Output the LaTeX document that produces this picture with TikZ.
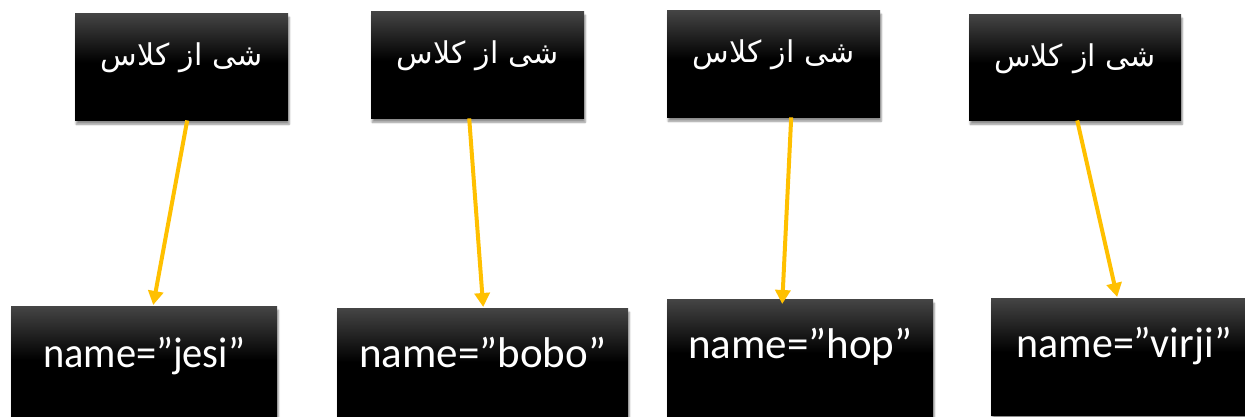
\documentclass[tikz,border=0pt]{standalone}
\usepackage{fontspec}
\setmainfont{Carlito}
\newfontfamily\arabicfont[Script=Arabic]{DejaVu Sans}
\TeXXeTstate=1
\usetikzlibrary{arrows.meta,shadows.blur,calc}
\definecolor{arrowgold}{HTML}{FFC000}
\pgfdeclareverticalshading{boxshade}{100bp}{color(0bp)=(black); color(52bp)=(black); color(75bp)=(black!73); color(100bp)=(black!73)}
\begin{document}
\begin{tikzpicture}[x=1pt,y=-1pt,
  objbox/.style={anchor=north west, inner sep=0pt, align=center, text=white,
    shading=boxshade, blur shadow={shadow xshift=1pt, shadow yshift=-4pt, shadow opacity=45, shadow blur steps=6}},
  topbox/.style={objbox, text width=213pt, text height=52pt, text depth=55pt,
    font=\arabicfont\fontsize{30}{34}\selectfont},
  botbox/.style={objbox, text width=266pt, font=\fontsize{43}{48}\selectfont},
  link/.style={draw=arrowgold, line width=4pt, -{Triangle[width=15pt,length=14pt]}}]
\useasboundingbox (0,0) rectangle (1245,417);
% top boxes
\node[topbox] (t1) at (75,13) {\beginR شی از کلاس\endR};
\node[topbox] (t2) at (371,11) {\beginR شی از کلاس\endR};
\node[topbox] (t3) at (667,10) {\beginR شی از کلاس\endR};
\node[topbox, text width=212pt, text depth=54pt] (t4) at (969,14) {\beginR شی از کلاس\endR};
% bottom boxes
\node[botbox, text height=61pt, text depth=56pt] (b1) at (11,306) {\scalebox{0.94}[1]{name=”jesi”}};
\node[botbox, text width=291pt, text height=59pt, text depth=58pt] (b2) at (337,308) {name=”bobo”};
\node[botbox, text height=59pt, text depth=58pt] (b3) at (667,299) {name=”hop”};
\node[botbox, text height=59pt, text depth=58pt] (b4) at (991,298) {\scalebox{0.975}[1]{name=”virji”}};
% connectors
\draw[link] ([xshift=5.5pt]t1.south) -- ([xshift=9pt,yshift=1pt]b1.north);
\draw[link] ([xshift=-8.5pt]t2.south) -- ([xshift=0.5pt,yshift=1pt]b2.north);
\draw[link] ([xshift=17.5pt]t3.south) -- ([xshift=-18pt,yshift=-5pt]b3.north);
\draw[link] ([xshift=2pt]t4.south) -- ([xshift=-7pt,yshift=1pt]b4.north);
\end{tikzpicture}
\end{document}
